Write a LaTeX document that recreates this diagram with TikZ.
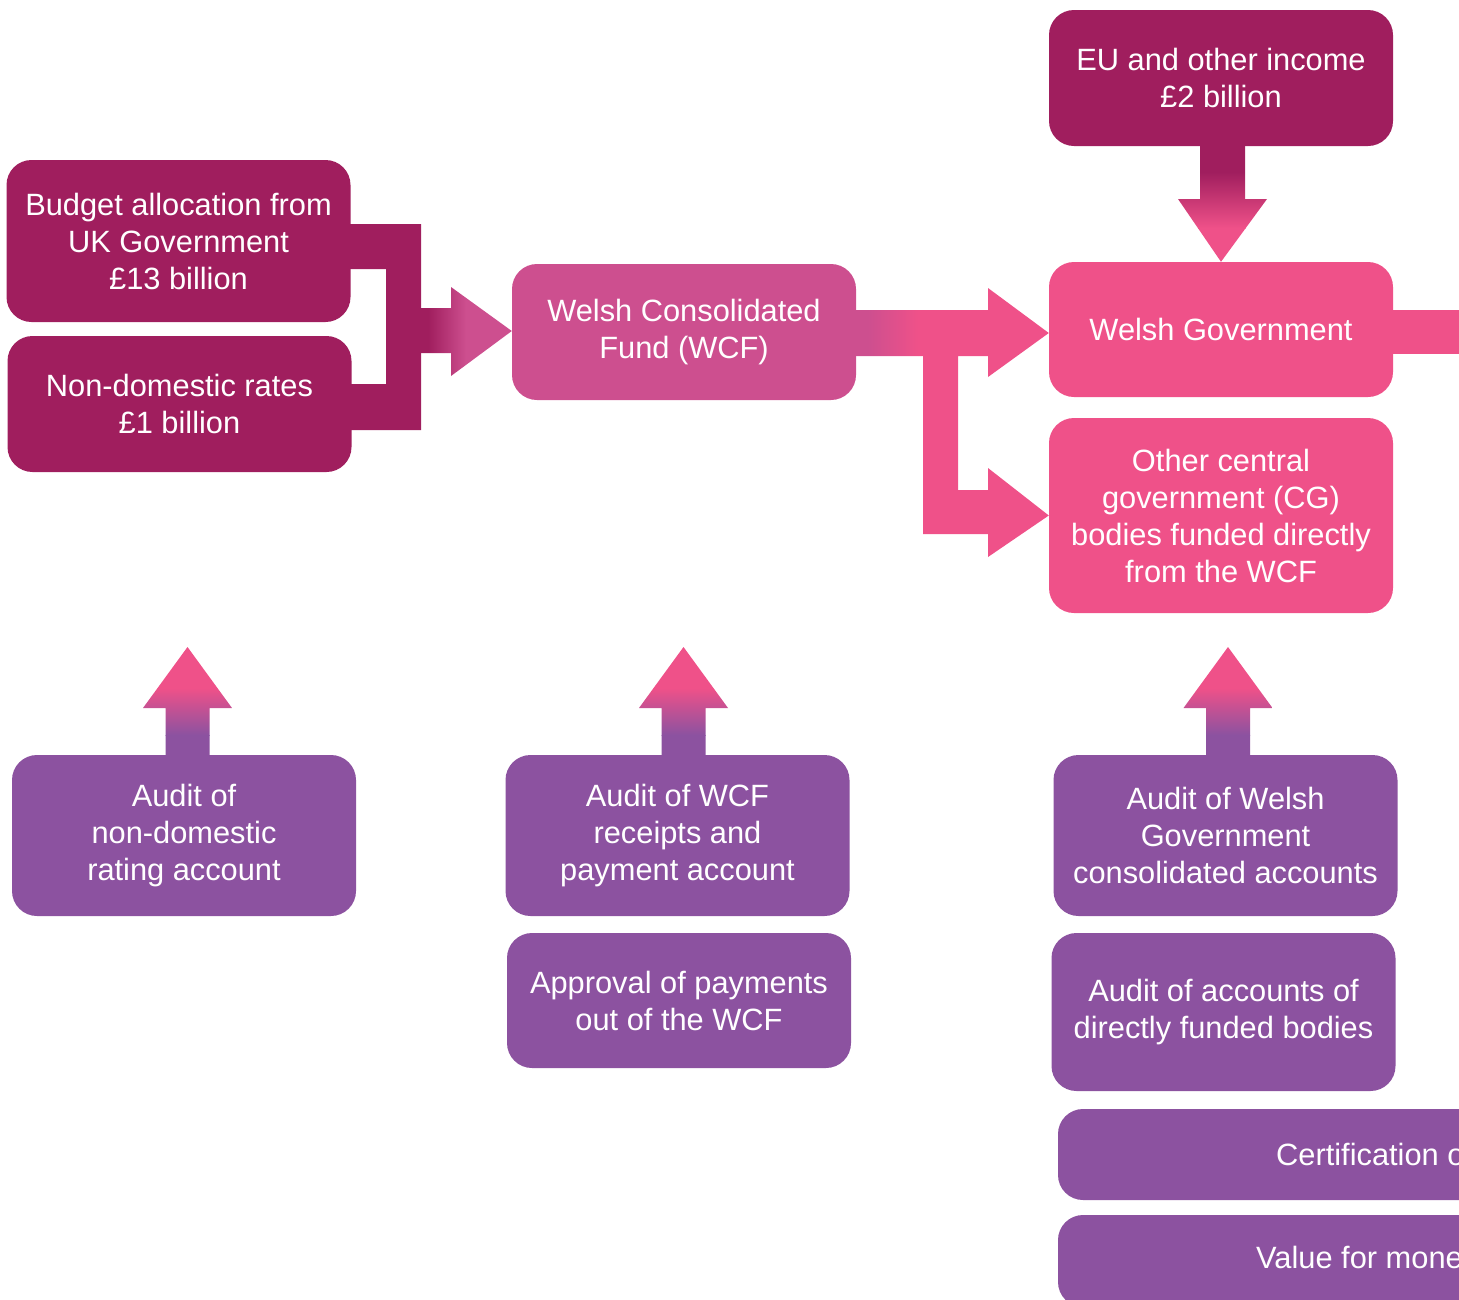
\documentclass[tikz,border=0pt]{standalone}
\usepackage{fontspec}
\setmainfont{Liberation Sans}
\definecolor{dk}{HTML}{A01E5E}
\definecolor{wc}{HTML}{CD4F8F}
\definecolor{pk}{HTML}{EF5189}
\definecolor{pu}{HTML}{8C52A0}
\newcommand\myuparrow[1]{%
\begin{scope}
\clip (#1-22,761) -- (#1-22,708) -- (#1-44.5,708) -- (#1,647) -- (#1+44.5,708) -- (#1+22,708) -- (#1+22,761) -- cycle;
\fill[pk] (#1-50,640) rectangle (#1+50,688);
\shade[top color=pk,bottom color=pu] (#1-50,688) rectangle (#1+50,735);
\fill[pu] (#1-50,735) rectangle (#1+50,762);
\end{scope}}
\begin{document}
\begin{tikzpicture}[x=1pt,y=-1pt,
  bx/.style={rounded corners=25pt, text=white, align=center, inner sep=0pt,
    font=\fontsize{30.8}{37}\selectfont},
  bxw/.style={bx, minimum width=344pt}]
\useasboundingbox (0,0) rectangle (1459,1299);
\clip (0,0) rectangle (1459,1299);
% boxes
\node[bxw, fill=dk, minimum height=162pt] (budget) at (178.5,241) {Budget allocation from\\UK Government\\\pounds13 billion};
\node[bxw, fill=dk, minimum height=136pt] (ndr) at (179.5,404) {Non-domestic rates\\\pounds1 billion};
\node[bxw, fill=wc, minimum height=136pt] (wcf) at (684,332) {Welsh Consolidated\\Fund (WCF)};
\node[bxw, fill=dk, minimum height=136pt] (eu) at (1221,78) {EU and other income\\\pounds2 billion};
\node[bxw, fill=pk, minimum height=135pt] (wg) at (1221,329.5) {Welsh Government};
\node[bxw, fill=pk, minimum height=195pt] (ocg) at (1221,515.5) {Other central\\government (CG)\\bodies funded directly\\from the WCF};
\node[bxw, fill=pu, minimum height=161pt] (a1) at (184,835.5) {Audit of\\non-domestic\\rating account};
\node[bxw, fill=pu, minimum height=161pt] (a2) at (677.5,835.5) {Audit of WCF\\receipts and\\payment account};
\node[bxw, fill=pu, minimum height=135pt] (appr) at (679,1000.5) {Approval of payments\\out of the WCF};
\node[bxw, fill=pu, minimum height=161pt] (a3) at (1225.5,835.5) {Audit of Welsh\\Government\\consolidated accounts};
\node[bxw, fill=pu, minimum height=158pt] (aacc) at (1223.5,1012) {Audit of accounts of\\directly funded bodies};
\node[bx, fill=pu, minimum width=470pt, minimum height=91pt] (cert) at (1293,1154.5) {};
\node[bx, fill=pu, minimum width=470pt, minimum height=92pt] (vfm) at (1293,1261) {};
\node[bx, anchor=west] (certt) at (1276,1154.5) {Certification of};
\node[bx, anchor=west] (vfmt) at (1256,1261) {Value for money};
% bracket: budget + rates -> WCF
\fill[dk] (340,224) -- (421,224) -- (421,430) -- (340,430) -- (340,384) -- (386,384) -- (386,269) -- (340,269) -- cycle;
\begin{scope}
\clip (420,308) -- (451,308) -- (451,287) -- ([yshift=1pt]wcf.west) -- (451,376) -- (451,353) -- (420,353) -- cycle;
\fill[dk] (415,280) rectangle (428,380);
\shade[left color=dk, right color=wc] (428,280) rectangle (466,380);
\fill[wc] (466,280) rectangle (520,380);
\end{scope}
% WCF -> WG and other CG bodies
\begin{scope}
\clip (846,310) -- (988,310) -- (988,288) -- ([yshift=-3.5pt]wg.west) -- (988,377) -- (988,356) -- (958,356) -- (958,490) -- (988,490) -- (988,468) -- (ocg.west) -- (988,557) -- (988,534) -- (923,534) -- (923,356) -- (846,356) -- cycle;
\fill[wc] (840,280) rectangle (868,560);
\shade[left color=wc, right color=pk] (868,280) rectangle (918,560);
\fill[pk] (918,280) rectangle (1060,560);
\end{scope}
% WG -> right
\fill[pk] (1385,310) rectangle (1470,354);
% EU -> WG
\begin{scope}
\clip (1200,140) -- (1245,140) -- (1245,199) -- (1267,199) -- (wg.north) -- (1178,199) -- (1200,199) -- cycle;
\fill[dk] (1170,138) rectangle (1280,172);
\shade[top color=dk, bottom color=pk] (1170,172) rectangle (1280,228);
\fill[pk] (1170,228) rectangle (1280,265);
\end{scope}
% audit arrows
\myuparrow{187.5}
\myuparrow{683.5}
\myuparrow{1228}
\end{tikzpicture}
\end{document}
